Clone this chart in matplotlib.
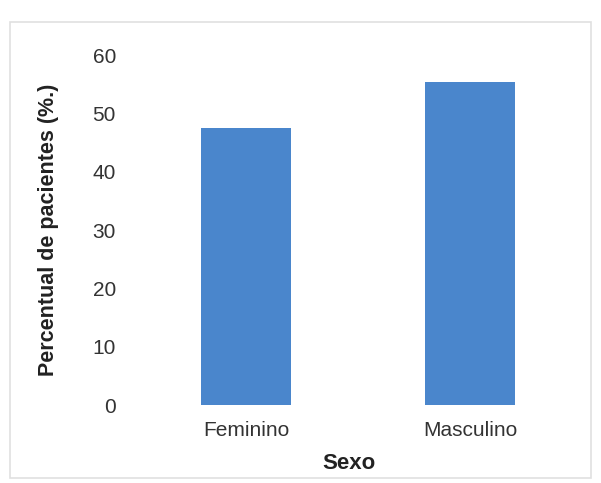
import matplotlib
matplotlib.use("Agg")
import matplotlib.pyplot as plt
from matplotlib.patches import Rectangle

plt.rcParams['font.family'] = ['Liberation Sans', 'DejaVu Sans']

categories = ['Feminino', 'Masculino']
values = [47.5, 55.3]
yticks = [0, 10, 20, 30, 40, 50, 60]

fig = plt.figure(figsize=(6.01, 4.83), dpi=100)
fig.patches.append(Rectangle((0.017, 0.01), 0.966, 0.945, transform=fig.transFigure,
                             fill=False, edgecolor='#e0e0e0', linewidth=1.2))

ax = fig.add_axes([0.216, 0.161, 0.73, 0.725])
ax.bar(range(len(categories)), values, width=0.4, color='#4a86cc')
ax.set_xlim(-0.52, 1.44)
ax.set_ylim(0, 60)
ax.set_yticks(yticks)
ax.set_xticks(range(len(categories)))
ax.set_xticklabels(categories)
for s in ax.spines.values():
    s.set_visible(False)
ax.tick_params(length=0, labelsize=15, colors='#333333')
ax.tick_params(axis='y', pad=10)
ax.tick_params(axis='x', pad=11)
ax.set_ylabel('Percentual de pacientes (%.)', fontsize=15.5, fontweight='bold',
              color='#222222', labelpad=24)
ax.set_xlabel('Sexo', fontsize=16, fontweight='bold', color='#222222', labelpad=10)

fig.savefig('out.png', dpi=100)
